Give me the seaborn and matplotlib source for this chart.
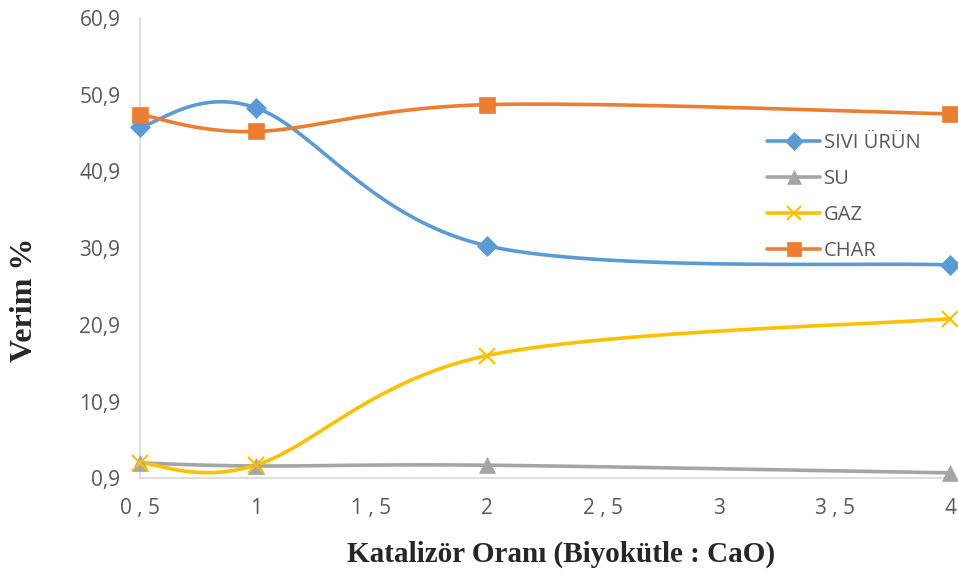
import numpy as np
import pandas as pd
import seaborn as sns
import matplotlib.pyplot as plt
from matplotlib.lines import Line2D

oran = [0.5, 1, 2, 4]
sivi = [46.7, 49.2, 31.2, 28.7]
su = [2.9, 2.5, 2.6, 1.6]
gaz = [2.9, 2.6, 16.9, 21.7]
char = [48.3, 46.1, 49.6, 48.4]

names = ["SIVI ÜRÜN", "SU", "GAZ", "CHAR"]
colors = ["#5B9BD5", "#A5A5A5", "#FFC000", "#ED7D31"]
markers = ["D", "^", "x", "s"]
msizes = [10, 11, 11, 11]

xticks = [0.5, 1, 1.5, 2, 2.5, 3, 3.5, 4]
xtick_labels = ["0 , 5", "1", "1 , 5", "2", "2 , 5", "3", "3 , 5", "4"]
yticks = [0.9, 10.9, 20.9, 30.9, 40.9, 50.9, 60.9]
ytick_labels = ["0,9", "10,9", "20,9", "30,9", "40,9", "50,9", "60,9"]


def smooth(x, y, sx=231.0, sy=7.67, n=40):
    # bezier smoothing like excel, done in screen-ish units
    p = np.column_stack([np.array(x) * sx, np.array(y) * sy])
    pts = np.vstack([p[0], p, p[-1]])
    out = []
    for i in range(1, len(pts) - 2):
        p0, p1, p2, p3 = pts[i - 1], pts[i], pts[i + 1], pts[i + 2]
        c1 = p1 + (p2 - p0) / 6
        c2 = p2 - (p3 - p1) / 6
        t = np.linspace(0, 1, n)[:, None]
        seg = (1 - t) ** 3 * p1 + 3 * (1 - t) ** 2 * t * c1 + 3 * (1 - t) * t ** 2 * c2 + t ** 3 * p2
        out.append(seg if i == 1 else seg[1:])
    out = np.vstack(out)
    return out[:, 0] / sx, out[:, 1] / sy


sns.set_style("white")
fig = plt.figure(figsize=(9.58, 5.79), dpi=100)
ax = fig.add_axes([0.146, 0.174, 0.846, 0.795])

series = [sivi, su, gaz, char]
handles = []
for name, vals, c, m, ms in zip(names, series, colors, markers, msizes):
    xs, ys = smooth(oran, vals)
    sns.lineplot(x=xs, y=ys, sort=False, estimator=None, color=c, linewidth=2.6, ax=ax, clip_on=False)
    ax.plot(oran, vals, linestyle="none", marker=m, color=c, markersize=ms,
            markeredgewidth=1.6 if m == "x" else 0.5, clip_on=False, zorder=5)
    handles.append(Line2D([0], [0], color=c, linewidth=2.6, marker=m, markersize=ms - 1,
                          markeredgewidth=1.6 if m == "x" else 0.5))

ax.set_xlim(0.5, 4)
ax.set_ylim(0.9, 60.9)
ax.set_xticks(xticks)
ax.set_xticklabels(xtick_labels)
ax.set_yticks(yticks)
ax.set_yticklabels(ytick_labels)
ax.tick_params(axis="both", length=0, labelsize=15, colors="#595959", pad=14)
for lab in ax.get_xticklabels() + ax.get_yticklabels():
    lab.set_fontfamily("Open Sans")

for s in ["top", "right"]:
    ax.spines[s].set_visible(False)
for s in ["left", "bottom"]:
    ax.spines[s].set_color("#D9D9D9")
    ax.spines[s].set_linewidth(1.2)

ax.set_xlabel("Katalizör Oranı (Biyokütle : CaO)", fontsize=21, fontweight="bold",
              family="Liberation Serif")
ax.xaxis.set_label_coords(0.52, -0.135)
ax.set_ylabel("Verim %", fontsize=23, fontweight="bold", family="Liberation Serif")
ax.yaxis.set_label_coords(-0.124, 0.387)

leg = ax.legend(handles, names, loc="upper left", bbox_to_anchor=(0.752, 0.79), frameon=False,
                prop={"family": "Open Sans", "size": 14.5}, handlelength=2.6, labelspacing=0.8,
                handletextpad=0.2)
for t in leg.get_texts():
    t.set_color("#595959")

fig.savefig("out.png", dpi=100)
